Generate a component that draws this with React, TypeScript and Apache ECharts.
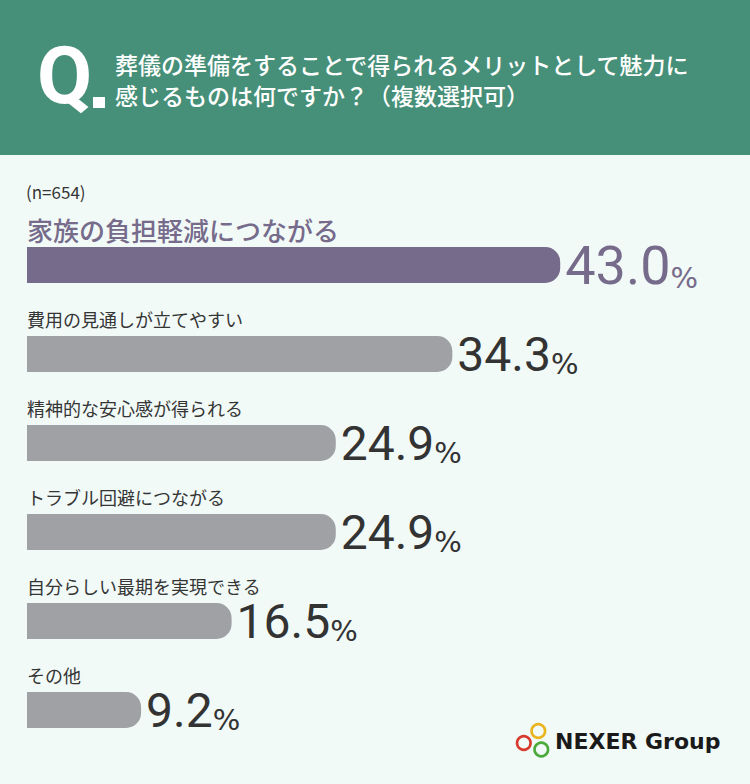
import React, { useEffect, useRef } from "react";
import * as echarts from "echarts";

const categories = [
  "家族の負担軽減につながる",
  "費用の見通しが立てやすい",
  "精神的な安心感が得られる",
  "トラブル回避につながる",
  "自分らしい最期を実現できる",
  "その他",
];
const values = [43.0, 34.3, 24.9, 24.9, 16.5, 9.2];
const questionLines = [
  "葬儀の準備をすることで得られるメリットとして魅力に",
  "感じるものは何ですか？（複数選択可）",
];
const sampleNote = "(n=654)";
const brandName = "NEXER Group";

const PURPLE = "#766b8b";
const GRAY_BAR = "#a0a1a5";
const TEXT_DARK = "#353535";
const HEADER = "#468f78";
const BG = "#f1faf7";
const JP = "'Noto Sans CJK JP', 'Noto Sans', sans-serif";
const NUM = "Roboto, 'Noto Sans', sans-serif";
const PCT = "'DejaVu Sans', sans-serif";

export default function App() {
  const ref = useRef<HTMLDivElement>(null);

  useEffect(() => {
    if (!ref.current) return;
    const chart = echarts.init(ref.current, undefined, { renderer: "svg" });

    const barData = values.map((v, i) => {
      const top = i === 0;
      const nSize = top ? 54 : 48;
      const pSize = 29;
      const color = top ? PURPLE : "#333333";
      return {
        value: v,
        itemStyle: { color: top ? PURPLE : GRAY_BAR, borderRadius: [0, 15, 15, 0] },
        label: {
          show: true,
          position: "right",
          distance: 5,
          formatter: (p: any) => `{n|${Number(p.value).toFixed(1)}}{p|%}`,
          rich: {
            n: { fontSize: nSize, fontFamily: NUM, color, verticalAlign: "bottom", lineHeight: nSize },
            p: {
              fontSize: pSize,
              fontFamily: PCT,
              color,
              verticalAlign: "bottom",
              lineHeight: Math.round(nSize * 0.3 + pSize * 0.7),
            },
          },
        },
      };
    });

    const nameData = values.map((v, i) => {
      const top = i === 0;
      return {
        value: v,
        label: {
          show: true,
          position: [0, top ? -18 : -17],
          align: "left",
          verticalAlign: "middle",
          formatter: "{b}",
          fontFamily: JP,
          fontSize: top ? 26 : 18,
          fontWeight: top ? 500 : 400,
          color: top ? PURPLE : TEXT_DARK,
        },
      };
    });

    chart.setOption({
      animation: false,
      backgroundColor: BG,
      grid: { left: 27, right: 103, top: 220.5, bottom: 29.5, containLabel: false },
      xAxis: { type: "value", min: 0, max: 50, show: false },
      yAxis: {
        type: "category",
        data: categories,
        inverse: true,
        show: false,
      },
      series: [
        {
          type: "bar",
          barWidth: 36,
          barGap: "-100%",
          data: barData,
          silent: true,
          z: 2,
        },
        {
          type: "bar",
          barWidth: 36,
          barGap: "-100%",
          data: nameData,
          itemStyle: { color: "rgba(0,0,0,0)" },
          silent: true,
          z: 3,
        },
      ],
      graphic: [
        { type: "rect", shape: { x: 0, y: 0, width: 750, height: 155 }, style: { fill: HEADER }, z: 0 },
        {
          type: "text",
          x: 37,
          y: 76,
          style: {
            text: "Q",
            fontSize: 80,
            fontWeight: "bold",
            fontFamily: NUM,
            fill: "#ffffff",
            verticalAlign: "middle",
          },
        },
        { type: "rect", shape: { x: 93, y: 97, width: 12, height: 11 }, style: { fill: "#ffffff" } },
        {
          type: "text",
          x: 115,
          y: 64,
          style: {
            text: questionLines[0],
            fontSize: 23,
            fontWeight: 500,
            fontFamily: JP,
            fill: "#ffffff",
            verticalAlign: "middle",
          },
        },
        {
          type: "text",
          x: 115,
          y: 95,
          style: {
            text: questionLines[1],
            fontSize: 23,
            fontWeight: 500,
            fontFamily: JP,
            fill: "#ffffff",
            verticalAlign: "middle",
          },
        },
        {
          type: "text",
          x: 26,
          y: 191,
          style: {
            text: sampleNote,
            fontSize: 17,
            fontFamily: JP,
            fill: TEXT_DARK,
            verticalAlign: "middle",
          },
        },
        {
          type: "circle",
          shape: { cx: 538.3, cy: 731, r: 6.8 },
          style: { fill: "none", stroke: "#eab41f", lineWidth: 2.6 },
        },
        {
          type: "circle",
          shape: { cx: 523.8, cy: 743, r: 6.8 },
          style: { fill: "none", stroke: "#d83a2e", lineWidth: 2.6 },
        },
        {
          type: "circle",
          shape: { cx: 541.3, cy: 749.5, r: 6.8 },
          style: { fill: "none", stroke: "#4caa3c", lineWidth: 2.6 },
        },
        {
          type: "text",
          x: 555,
          y: 741,
          style: {
            text: brandName,
            fontSize: 22,
            fontWeight: "bold",
            fontFamily: "'DejaVu Sans', sans-serif",
            fill: "#1a1a1a",
            verticalAlign: "middle",
          },
        },
      ],
    });

    return () => chart.dispose();
  }, []);

  return (
    <div
      ref={ref}
      style={{ position: "fixed", left: 0, top: 0, width: 750, height: 784 }}
    />
  );
}
